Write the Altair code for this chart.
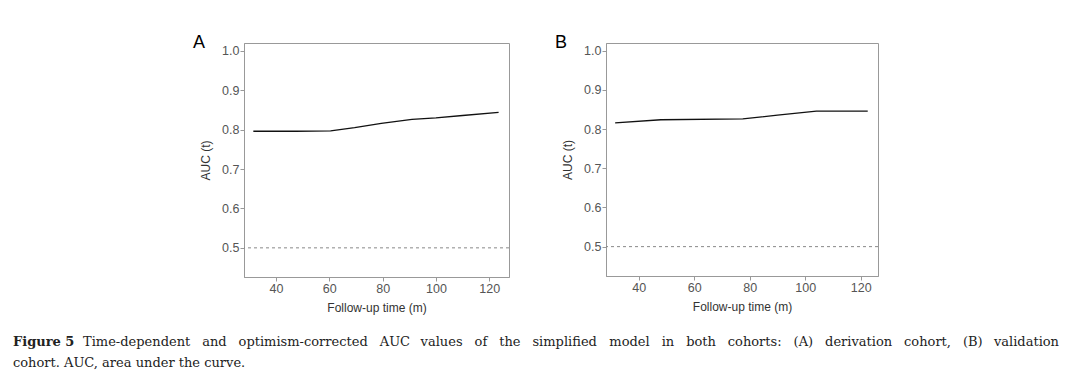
import altair as alt
import pandas as pd

# Panel A: derivation cohort
time_a = [31.5, 47.5, 60.5, 69.5, 79.5, 91, 100, 110, 123.5]
auc_a = [0.796, 0.796, 0.797, 0.805, 0.816, 0.826, 0.830, 0.836, 0.844]

# Panel B: validation cohort
time_b = [31.5, 48, 77.5, 90, 104, 122.5]
auc_b = [0.816, 0.824, 0.826, 0.836, 0.846, 0.846]

reference_line = [0.5]
x_ticks = [40, 60, 80, 100, 120]
y_ticks = [0.5, 0.6, 0.7, 0.8, 0.9, 1.0]

caption_bold = "Figure 5"
caption_line1 = ("Time-dependent and optimism-corrected AUC values of the simplified model "
                 "in both cohorts: (A) derivation cohort, (B) validation")
caption_line2 = "cohort. AUC, area under the curve."

SANS = "Liberation Sans"
SERIF = "DejaVu Serif"
CAP_SIZE = 13

# approximate DejaVu Serif advance widths (em), only used to justify caption line 1
_EM = {
    " ": 0.318, "a": 0.596, "b": 0.640, "c": 0.559, "d": 0.640, "e": 0.592,
    "f": 0.372, "g": 0.640, "h": 0.640, "i": 0.320, "j": 0.320, "k": 0.600,
    "l": 0.320, "m": 0.950, "n": 0.640, "o": 0.602, "p": 0.640, "q": 0.640,
    "r": 0.478, "s": 0.515, "t": 0.401, "u": 0.640, "v": 0.565, "w": 0.856,
    "x": 0.565, "y": 0.565, "z": 0.525, "-": 0.338, ":": 0.337, ",": 0.318,
    ".": 0.318, "(": 0.390, ")": 0.390, "A": 0.722, "B": 0.690, "C": 0.729,
    "T": 0.667, "U": 0.768,
}


def measure(s):
    return sum(_EM.get(ch, 0.6) for ch in s) * CAP_SIZE


def text_layer(s, x, y, align="left", weight="normal"):
    return alt.Chart(pd.DataFrame({"s": [s]})).mark_text(
        font=SERIF, fontSize=CAP_SIZE, fontWeight=weight, align=align,
        baseline="alphabetic", color="#222222"
    ).encode(text="s:N", x=alt.value(x), y=alt.value(y))


def justified_layers(line, x_start, x_end, y):
    """Justify a line by spreading the free space evenly over its word gaps."""
    words = line.split(" ")
    widths = [measure(w) for w in words]
    gap = (x_end - x_start - sum(widths)) / (len(words) - 1)
    layers, pos = [], x_start
    for i, w in enumerate(words):
        if i == len(words) - 1:
            layers.append(text_layer(w, x_end, y, align="right"))
        else:
            layers.append(text_layer(w, pos, y))
            pos += widths[i] + gap
    return layers


def panel(times, aucs, letter, width, height, xdom, ydom, with_caption=False):
    df = pd.DataFrame({"t": times, "auc": aucs})
    x = alt.X("t:Q", scale=alt.Scale(domain=xdom, nice=False, zero=False),
              axis=alt.Axis(values=x_ticks, title="Follow-up time (m)", format="d"))
    y = alt.Y("auc:Q", scale=alt.Scale(domain=ydom, nice=False, zero=False),
              axis=alt.Axis(values=y_ticks, title="AUC (t)", format=".1f"))
    line = alt.Chart(df).mark_line(color="#111111", strokeWidth=1.3).encode(x=x, y=y)
    ref = alt.Chart(pd.DataFrame({"auc": reference_line})).mark_rule(
        color="#888888", strokeDash=[3, 3], strokeWidth=1).encode(y=alt.Y("auc:Q"))
    lab = alt.Chart(pd.DataFrame({"s": [letter]})).mark_text(
        font=SANS, fontSize=18, align="left", baseline="alphabetic", color="#000000"
    ).encode(text="s:N", x=alt.value(-51), y=alt.value(5))
    layers = [ref, line, lab]
    if with_caption:
        layers.append(text_layer(caption_bold, -231, 303, weight="bold"))
        layers += justified_layers(caption_line1, -161, 815, 303)
        layers.append(text_layer(caption_line2, -231, 324))
    return alt.layer(*layers).properties(width=width, height=height)


pa = panel(time_a, auc_a, "A", 265, 234, [28, 127.4], [0.426, 1.02], with_caption=True)
pb = panel(time_b, auc_b, "B", 272, 233, [28.2, 126.2], [0.425, 1.02])

chart = alt.hconcat(pa, pb, spacing=97, bounds="flush").properties(
    padding={"left": 4, "top": 25, "right": 0, "bottom": 0}
).configure_view(
    stroke="#999999", strokeWidth=1
).configure_axis(
    grid=False,
    domainColor="#999999",
    tickColor="#999999",
    tickSize=4,
    labelFont=SANS,
    labelFontSize=12.5,
    labelColor="#555555",
    labelPadding=1,
    titleFont=SANS,
    titleFontSize=12,
    titleFontWeight="normal",
    titleColor="#333333",
).configure_axisY(
    titlePadding=9,
).configure_axisX(
    titlePadding=8,
)

chart.save("out.html", embed_options={"renderer": "svg", "actions": False})
